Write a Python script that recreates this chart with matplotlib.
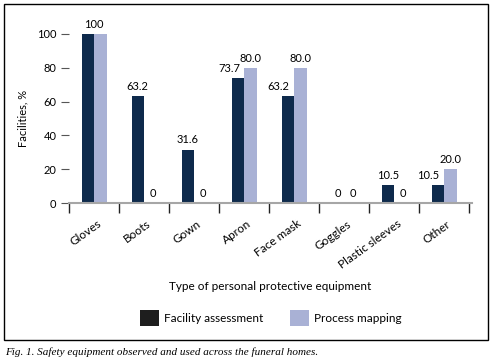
import numpy as np
import matplotlib
matplotlib.use("Agg")
import matplotlib.pyplot as plt
from matplotlib.patches import Patch, Rectangle

categories = ["Gloves", "Boots", "Gown", "Apron", "Face mask", "Goggles",
              "Plastic sleeves", "Other"]
facility = [100, 63.2, 31.6, 73.7, 63.2, 0, 10.5, 10.5]
process = [100, 0, 0, 80.0, 80.0, 0, 0, 20.0]
facility_labels = ["100", "63.2", "31.6", "73.7", "63.2", "0", "10.5", "10.5"]
process_labels = [None, "0", "0", "80.0", "80.0", "0", "0", "20.0"]

DARK = "#0e2a4c"
LIGHT = "#a9b1d5"

plt.rcParams["font.family"] = ["Lato", "DejaVu Sans"]
plt.rcParams["font.size"] = 8

fig = plt.figure(figsize=(4.93, 3.64), dpi=100)
ax = fig.add_axes([69 / 493, 1 - 203 / 364, (472 - 69) / 493, (203 - 34) / 364])

x = np.arange(len(categories))
w = 0.25
ax.bar(x - w / 2, facility, w, color=DARK)
ax.bar(x + w / 2, process, w, color=LIGHT)

# labels nudged sideways where they'd collide (points)
shift = {3: -6, 4: -7, 7: -7}
for i in range(len(categories)):
    if process_labels[i] is None:
        ax.annotate(facility_labels[i], (x[i], facility[i]), xytext=(0, 3),
                    textcoords="offset points", ha="center", va="bottom",
                    annotation_clip=False)
        continue
    ax.annotate(facility_labels[i], (x[i] - w / 2, facility[i]),
                xytext=(shift.get(i, 0), 3), textcoords="offset points",
                ha="center", va="bottom", annotation_clip=False)
    ax.annotate(process_labels[i], (x[i] + w / 2, process[i]),
                xytext=(2 if process[i] == 0 else 0, 3), textcoords="offset points",
                ha="center", va="bottom", annotation_clip=False)

ax.set_xlim(-0.5, len(categories) - 0.5 + 0.06)
ax.set_ylim(0, 100)
ax.set_yticks(range(0, 101, 20))
ax.set_xticks(np.arange(len(categories) + 1) - 0.5)
ax.set_xticklabels([])
ax.set_xticks(x + 0.05, minor=True)
ax.set_xticklabels(categories, minor=True, rotation=36, ha="right", va="top",
                   rotation_mode="anchor", fontsize=8.5)
ax.tick_params(axis="x", which="major", direction="out", length=7, width=1,
               color="#222222")
ax.tick_params(axis="x", which="minor", length=0, pad=11)
ax.tick_params(axis="y", direction="out", length=6, width=0.8, color="#555555",
               pad=3)

for s in ["top", "right", "left"]:
    ax.spines[s].set_visible(False)
ax.spines["bottom"].set_color("#a6a6a6")
ax.spines["bottom"].set_linewidth(1.5)

ax.set_ylabel("Facilities, %", labelpad=6)
fig.text(270 / 493, 1 - 286 / 364, "Type of personal protective equipment",
         ha="center", va="center", fontsize=8.5)

handles = [Patch(facecolor="#1e1e1e", label="Facility assessment"),
           Patch(facecolor=LIGHT, label="Process mapping")]
fig.legend(handles=handles, loc="center", bbox_to_anchor=(271 / 493, 1 - 318 / 364),
           ncol=2, frameon=False, handlelength=1.6, handleheight=1.6,
           handletextpad=0.4, columnspacing=2.3, fontsize=8.5)

fig.patches.append(Rectangle((4 / 493, 1 - 340 / 364), (488 - 4) / 493,
                             (340 - 4) / 364, transform=fig.transFigure,
                             fill=False, edgecolor="black", linewidth=1))
fig.text(5 / 493, 1 - 352 / 364,
         "Fig. 1. Safety equipment observed and used across the funeral homes.",
         family="Liberation Serif", style="italic", fontsize=8, va="center",
         ha="left")

fig.savefig("out.png", dpi=100)
